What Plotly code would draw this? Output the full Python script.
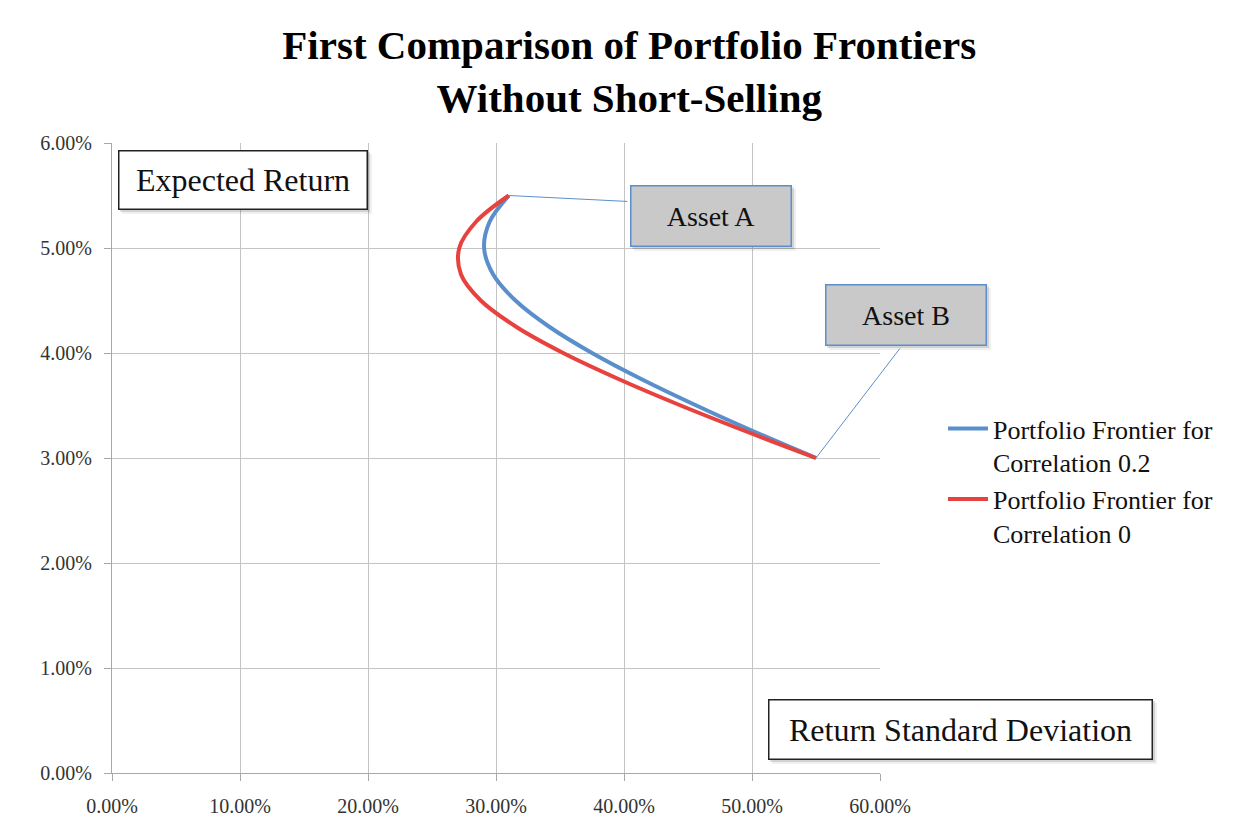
import plotly.graph_objects as go

# Portfolio frontier points (std dev, expected return)
std_corr_02 = [0.550, 0.502, 0.4565, 0.4138, 0.375, 0.3416, 0.3152, 0.2977, 0.2907, 0.295, 0.310]
ret_corr_02 = [0.030, 0.0325, 0.035, 0.0375, 0.040, 0.0425, 0.045, 0.0475, 0.050, 0.0525, 0.055]

std_corr_0 = [0.550, 0.496, 0.4443, 0.3961, 0.3525, 0.3157, 0.2881, 0.2726, 0.2713, 0.2844, 0.310]
ret_corr_0 = [0.030, 0.0325, 0.035, 0.0375, 0.040, 0.0425, 0.045, 0.0475, 0.050, 0.0525, 0.055]

x_ticks = [0, 0.1, 0.2, 0.3, 0.4, 0.5, 0.6]
y_ticks = [0, 0.01, 0.02, 0.03, 0.04, 0.05, 0.06]

asset_a = (0.31, 0.055)
asset_b = (0.55, 0.03)

SERIF = "Liberation Serif"
BLUE = "#5B8FCB"
RED = "#E8423F"

fig = go.Figure()

fig.add_trace(go.Scatter(
    x=std_corr_02, y=ret_corr_02, mode="lines",
    name="Portfolio Frontier for<br>Correlation 0.2",
    line=dict(color=BLUE, width=4, shape="spline"),
))
fig.add_trace(go.Scatter(
    x=std_corr_0, y=ret_corr_0, mode="lines",
    name="Portfolio Frontier for<br>Correlation 0",
    line=dict(color=RED, width=4, shape="spline"),
))

axis_style = dict(
    showgrid=True, gridcolor="#C4C4C4", gridwidth=1,
    showline=True, linecolor="#A8A8A8", linewidth=1,
    ticks="outside", ticklen=7, tickcolor="#A8A8A8",
    tickformat=".2%", zeroline=False, ticklabelstandoff=8,
    tickfont=dict(family=SERIF, size=20, color="#333333"),
)

fig.update_xaxes(range=[0, 0.6], tickvals=x_ticks, **axis_style)
fig.update_yaxes(range=[0, 0.06], tickvals=y_ticks, **axis_style)


# pixel position -> paper coordinates (plot area 112..880 x 143..773)
def px_to_paper(px, py):
    return (px - 112) / 768, (773 - py) / 630


def text_box(x0, y0, x1, y1, text, size, fill, border):
    # soft drop shadow first, then the box itself
    for off, alpha in ((4, 0.06), (2, 0.12)):
        a = px_to_paper(x0 + off, y0 + off)
        b = px_to_paper(x1 + off, y1 + off)
        fig.add_shape(type="rect", xref="paper", yref="paper",
                      x0=a[0], y0=a[1], x1=b[0], y1=b[1],
                      line=dict(width=0), fillcolor=f"rgba(0,0,0,{alpha})", layer="above")
    cx, cy = px_to_paper((x0 + x1) / 2, (y0 + y1) / 2)
    fig.add_annotation(x=cx, y=cy, xref="paper", yref="paper", showarrow=False,
                       xanchor="center", yanchor="middle",
                       text=text, font=dict(family=SERIF, size=size, color="#111111"),
                       bgcolor=fill, bordercolor=border, borderwidth=1.5,
                       width=x1 - x0 - 5, height=y1 - y0 - 5, borderpad=1)


# callout lines from the assets to their boxes
fig.add_annotation(x=asset_a[0], y=asset_a[1], xref="x", yref="y", text="",
                   ax=120, ay=6, showarrow=True, arrowhead=0, arrowwidth=1, arrowcolor=BLUE)
fig.add_annotation(x=asset_b[0], y=asset_b[1], xref="x", yref="y", text="",
                   ax=85, ay=-111, showarrow=True, arrowhead=0, arrowwidth=1, arrowcolor=BLUE)

text_box(118, 150, 368, 210, "Expected Return", 32, "white", "#222222")
text_box(768, 699, 1153, 760, "Return Standard Deviation", 32, "white", "#222222")
text_box(630, 185, 792, 247, "Asset A", 28, "#C9C9C9", BLUE)
text_box(825, 284, 987, 346, "Asset B", 28, "#C9C9C9", BLUE)

fig.update_layout(
    width=1251, height=840,
    margin=dict(l=112, r=371, t=143, b=67),
    paper_bgcolor="white", plot_bgcolor="white",
    title=dict(
        text="<b>First Comparison of Portfolio Frontiers<br>Without Short-Selling</b>",
        x=0.503, xanchor="center", y=0.93, yanchor="middle",
        font=dict(family=SERIF, size=41, color="#000000"),
    ),
    legend=dict(
        x=1.082, xanchor="left", y=0.584, yanchor="top",
        font=dict(family=SERIF, size=26, color="#111111"),
        valign="top", itemwidth=40,
        bgcolor="rgba(0,0,0,0)",
    ),
    showlegend=True,
)

fig.write_html("out.html", config={"displayModeBar": False},
               post_script="document.body.style.margin='0';")
